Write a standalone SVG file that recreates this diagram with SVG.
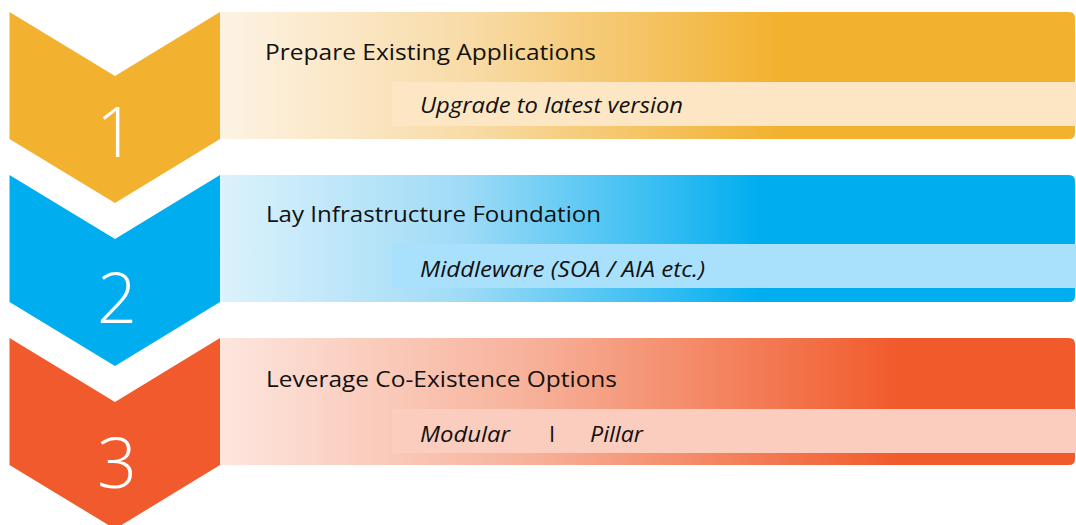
<svg xmlns="http://www.w3.org/2000/svg" width="1076" height="525" viewBox="0 0 1076 525">
  <defs>
    <linearGradient id="gOrange" gradientUnits="userSpaceOnUse" x1="220" y1="0" x2="780" y2="0">
      <stop offset="0" stop-color="#fdf3e4"/>
      <stop offset="0.45" stop-color="#f8dba6"/>
      <stop offset="1" stop-color="#f2b12f"/>
    </linearGradient>
    <linearGradient id="gBlue" gradientUnits="userSpaceOnUse" x1="220" y1="0" x2="760" y2="0">
      <stop offset="0" stop-color="#dcf2fc"/>
      <stop offset="0.45" stop-color="#9fdbf6"/>
      <stop offset="1" stop-color="#00aeef"/>
    </linearGradient>
    <linearGradient id="gRed" gradientUnits="userSpaceOnUse" x1="220" y1="0" x2="900" y2="0">
      <stop offset="0" stop-color="#fde6de"/>
      <stop offset="0.45" stop-color="#f7b29b"/>
      <stop offset="1" stop-color="#f15a2b"/>
    </linearGradient>
  </defs>
  <style>
    .title { font-family: "Open Sans", "Noto Sans", "Liberation Sans", sans-serif; font-size: 22px; fill: #111111; }
    .sub { font-family: "Open Sans", "Noto Sans", "Liberation Sans", sans-serif; font-size: 22px; font-style: italic; fill: #111111; }
    .num { font-family: "Open Sans", "Noto Sans", "Liberation Sans", sans-serif; font-size: 70px; font-weight: 300; fill: #ffffff; text-anchor: middle; }
  </style>

  <g id="step1">
    <polygon points="9.5,12 115,76 220,12 220,139 115,203 9.5,139" fill="#f2b12f"/>
    <path d="M220,12 H1069 Q1075,12 1075,18 V133 Q1075,139 1069,139 H220 Z" fill="url(#gOrange)"/>
    <rect x="392" y="82" width="684" height="44" fill="#fce6c3"/>
    <text class="num" x="116" y="157">1</text>
    <text class="title" x="265" y="60" textLength="331" lengthAdjust="spacingAndGlyphs">Prepare Existing Applications</text>
    <text class="sub" x="420" y="113" textLength="263" lengthAdjust="spacingAndGlyphs">Upgrade to latest version</text>
  </g>

  <g id="step2">
    <polygon points="9.5,175 115,239 220,175 220,302 115,366 9.5,302" fill="#00aeef"/>
    <path d="M220,175 H1069 Q1075,175 1075,181 V296 Q1075,302 1069,302 H220 Z" fill="url(#gBlue)"/>
    <rect x="392" y="244" width="684" height="44" fill="#a9e0fb"/>
    <text class="num" x="117" y="323">2</text>
    <text class="title" x="266" y="222" textLength="335" lengthAdjust="spacingAndGlyphs">Lay Infrastructure Foundation</text>
    <text class="sub" x="420" y="277" textLength="285" lengthAdjust="spacingAndGlyphs">Middleware (SOA / AIA etc.)</text>
  </g>

  <g id="step3">
    <polygon points="9.5,338 115,402 220,338 220,465 115,529 9.5,465" fill="#f15a2c"/>
    <path d="M220,338 H1069 Q1075,338 1075,344 V459 Q1075,465 1069,465 H220 Z" fill="url(#gRed)"/>
    <rect x="392" y="409" width="684" height="44" fill="#fbcdbf"/>
    <text class="num" x="117" y="488">3</text>
    <text class="title" x="266" y="387" textLength="351" lengthAdjust="spacingAndGlyphs">Leverage Co-Existence Options</text>
    <text class="sub" x="420" y="442" textLength="90" lengthAdjust="spacingAndGlyphs">Modular</text>
    <text class="sub" x="549" y="442" font-style="normal" style="font-style:normal">I</text>
    <text class="sub" x="590" y="442" textLength="53" lengthAdjust="spacingAndGlyphs">Pillar</text>
  </g>

  <g id="connectors"></g>
</svg>
